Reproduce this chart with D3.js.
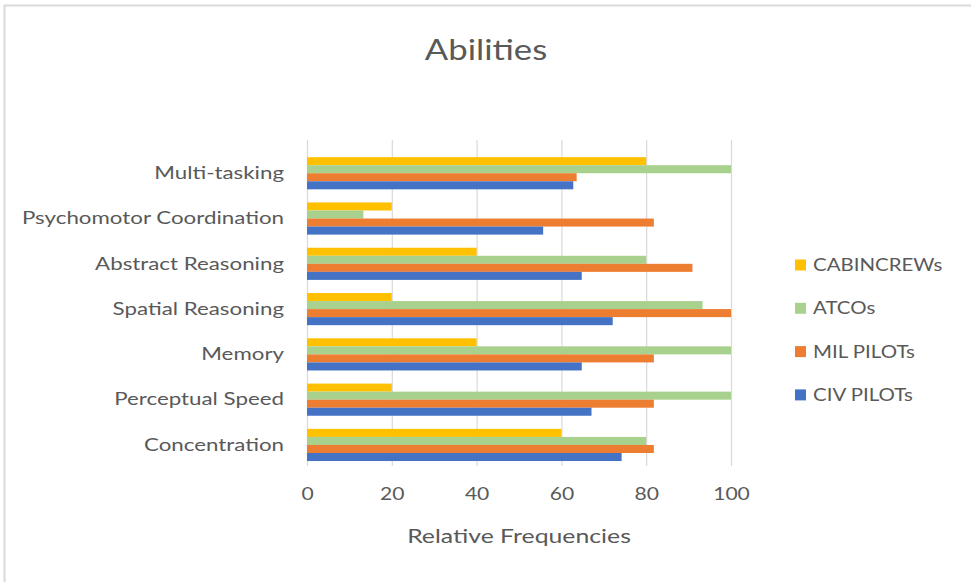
<!DOCTYPE html>
<html>
<head>
<meta charset="utf-8">
<script src="https://cdn.jsdelivr.net/npm/d3@7"></script>
<style>
  html, body { margin: 0; padding: 0; background: #ffffff; }
  svg { display: block; }
  text { font-family: Lato, "Open Sans", sans-serif; fill: #595959; }
</style>
</head>
<body>
<svg id="chart" width="971" height="582"></svg>
<script>
// Abilities rated by each group (relative frequencies, %)
const categories = ["Multi-tasking", "Psychomotor Coordination", "Abstract Reasoning",
  "Spatial Reasoning", "Memory", "Perceptual Speed", "Concentration"];
const seriesNames = ["CABINCREWs", "ATCOs", "MIL PILOTs", "CIV PILOTs"];
const cabinCrews = [80, 20, 40, 20, 40, 20, 60];
const atcos      = [100, 13.3, 80, 93.3, 100, 100, 80];
const milPilots  = [63.6, 81.8, 90.9, 100, 81.8, 81.8, 81.8];
const civPilots  = [62.8, 55.7, 64.8, 72.1, 64.8, 67.1, 74.2];
const xTicks = [0, 20, 40, 60, 80, 100];
const colors = ["#FFC000", "#A9D18E", "#ED7D31", "#4472C4"];

const seriesValues = [cabinCrews, atcos, milPilots, civPilots];

// wide lettering: glyphs are widened horizontally
const SX = 1.24;

const svg = d3.select("#chart");

// outer chart frame
svg.append("rect")
  .attr("x", 4.5).attr("y", 5.5)
  .attr("width", 1000).attr("height", 1000)
  .attr("fill", "none").attr("stroke", "#d9d9d9").attr("stroke-width", 2);

const plot = { left: 307, right: 731, top: 150.6, bottom: 467.6 };

const x = d3.scaleLinear().domain([0, 100]).range([plot.left, plot.right]);
const y = d3.scaleBand().domain(categories).range([plot.top, plot.bottom])
  .paddingInner(0.29).paddingOuter(0.145);
const ySub = d3.scaleBand().domain(seriesNames).range([0, y.bandwidth()]);

// place a widened text label at (px, py)
function wideText(parent, px, py, str, size, anchor) {
  return parent.append("text")
    .attr("transform", `translate(${px},${py}) scale(${SX},1)`)
    .attr("text-anchor", anchor)
    .style("font-size", size + "px")
    .text(str);
}

// title
wideText(svg, 486, 60, "Abilities", 28, "middle");

// vertical gridlines
svg.append("g")
  .selectAll("line")
  .data(xTicks)
  .join("line")
  .attr("x1", d => x(d) + 0.5).attr("x2", d => x(d) + 0.5)
  .attr("y1", 140).attr("y2", 466)
  .attr("stroke", "#d9d9d9").attr("stroke-width", 1.2);

// bars
const groups = svg.append("g")
  .selectAll("g")
  .data(categories)
  .join("g")
  .attr("transform", d => `translate(0,${y(d)})`);

groups.selectAll("rect")
  .data((c, i) => seriesNames.map((s, k) => ({ s, k, v: seriesValues[k][i] })))
  .join("rect")
  .attr("x", x(0))
  .attr("y", d => ySub(d.s))
  .attr("height", ySub.bandwidth())
  .attr("width", d => x(d.v) - x(0))
  .attr("fill", d => colors[d.k]);

// category axis labels
const yPad = 23;
const yAxis = d3.axisLeft(y).tickSize(0).tickPadding(yPad);
const gy = svg.append("g").attr("transform", `translate(${plot.left},0)`).call(yAxis);
gy.select(".domain").remove();
gy.selectAll("text")
  .style("font-size", "18px").attr("fill", null)
  .attr("x", -yPad / SX)
  .attr("transform", `scale(${SX},1)`);

// value axis labels
const xAxis = d3.axisBottom(x).tickValues(xTicks).tickSize(0).tickPadding(20);
const gx = svg.append("g").attr("transform", `translate(0,${plot.bottom})`).call(xAxis);
gx.select(".domain").remove();
gx.selectAll("text")
  .style("font-size", "17px").attr("fill", null)
  .attr("transform", `scale(${SX},1)`);

// axis title
wideText(svg, 519, 543, "Relative Frequencies", 20, "middle");

// legend
const legend = svg.append("g")
  .selectAll("g")
  .data(seriesNames)
  .join("g")
  .attr("transform", (d, i) => `translate(795,${265 + i * 43.3})`);
legend.append("rect")
  .attr("x", 0).attr("y", -5.5).attr("width", 11).attr("height", 11)
  .attr("fill", (d, i) => colors[i]);
legend.each(function (d) {
  wideText(d3.select(this), 18, 6, d, 16.5, "start");
});
</script>
</body>
</html>
